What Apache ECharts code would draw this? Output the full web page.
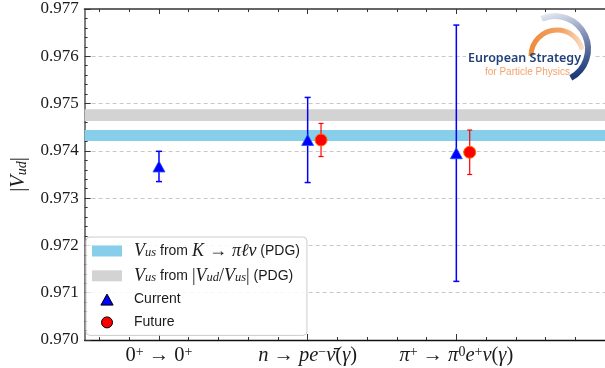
<!DOCTYPE html>
<html>
<head>
<meta charset="utf-8">
<script src="https://cdn.jsdelivr.net/npm/echarts@6/dist/echarts.min.js"></script>
<style>
  html, body { margin: 0; padding: 0; background: #fff; }
  #chart { width: 605px; height: 368px; }
</style>
</head>
<body>
<div id="chart"></div>
<script>
// Decay channels along the x axis (rich-text labels)
const categories = [
  '{r|0}{sup|+}{a|→}{r|0}{sup|+}',
  '{i|n}{a|→}{i|pe}{sup|−}{i|ν̄}{r|(}{i|γ}{r|)}',
  '{i|π}{sup|+}{a|→}{i|π}{sup|0}{i|e}{sup|+}{i|ν}{r|(}{i|γ}{r|)}'
];

// |Vud| determinations: present precision
const currentValue = [0.97367, 0.97423, 0.97395];
const currentError = [0.00032, 0.00090, 0.00271];

// |Vud| determinations: projected precision (none for superallowed)
const futureValue = [null, 0.97423, 0.97397];
const futureError = [null, 0.00035, 0.00047];

// Unitarity bands from |Vus| inputs (lower, upper)
const bandKl3 = [0.97421, 0.97444];
const bandRatio = [0.97463, 0.97488];

// y axis tick range
const yTicks = { min: 0.970, max: 0.977, step: 0.001 };

const FUTURE_SHIFT = 0.09;
const SERIF = '"Liberation Serif", "DejaVu Serif", serif';
const SANS = '"Liberation Sans", "DejaVu Sans", sans-serif';

const majorX = categories.map((_, i) => i);
const minorX = [];
for (let k = -2; k <= 14; k++) {
  if (k % 5 !== 0) minorX.push(+(k * 0.2).toFixed(1));
}

const currentPts = currentValue.map((v, i) => [i, v]);
const currentBars = currentValue.map((v, i) => [i, v - currentError[i], v + currentError[i]]);
const futurePts = [];
const futureBars = [];
futureValue.forEach((v, i) => {
  if (v == null) return;
  futurePts.push([i + FUTURE_SHIFT, v]);
  futureBars.push([i + FUTURE_SHIFT, v - futureError[i], v + futureError[i]]);
});

function bandRender(params, api) {
  const cs = params.coordSys;
  const top = api.coord([0, api.value(1)])[1];
  const bot = api.coord([0, api.value(0)])[1];
  return {
    type: 'rect',
    shape: { x: cs.x, y: top, width: cs.width, height: bot - top },
    style: { fill: api.visual('color') }
  };
}

function errorBarRender(color, width, cap) {
  return function (params, api) {
    const x = api.value(0);
    const p1 = api.coord([x, api.value(2)]);
    const p2 = api.coord([x, api.value(1)]);
    const st = { stroke: color, lineWidth: width };
    return {
      type: 'group',
      children: [
        { type: 'line', shape: { x1: p1[0], y1: p1[1], x2: p2[0], y2: p2[1] }, style: st },
        { type: 'line', shape: { x1: p1[0] - cap, y1: p1[1], x2: p1[0] + cap, y2: p1[1] }, style: st },
        { type: 'line', shape: { x1: p2[0] - cap, y1: p2[1], x2: p2[0] + cap, y2: p2[1] }, style: st }
      ]
    };
  };
}

const INK = '#1a1a1a';
const mathRich = {
  r: { fontFamily: SERIF, fontSize: 20.5, color: INK, lineHeight: 22, verticalAlign: 'middle' },
  a: { fontFamily: SERIF, fontSize: 20.5, color: INK, lineHeight: 22, verticalAlign: 'middle', padding: [0, 5, 0, 5] },
  i: { fontFamily: SERIF, fontStyle: 'italic', fontSize: 20.5, color: INK, lineHeight: 22, verticalAlign: 'middle' },
  sup: { fontFamily: SERIF, fontSize: 14, color: INK, lineHeight: 13, verticalAlign: 'top' },
  sub: { fontFamily: SERIF, fontStyle: 'italic', fontSize: 14, color: INK, lineHeight: 13, verticalAlign: 'bottom' }
};

// legend entries; {g|} adds the gap between key and label
const legendLabels = {
  bandKl3: '{g|}{m|V}{s|us}{t| from }{m|K}{a|→}{m|πℓν}{t| (PDG)}',
  bandRatio: '{g|}{m|V}{s|us}{t| from }{r||}{m|V}{s|ud}{r|/}{m|V}{s|us}{r||}{t| (PDG)}',
  Current: '{g|}{t|Current}',
  Future: '{g|}{t|Future}'
};

function tickAxis(position, values, len, showLine, lineColor, lineWidth) {
  return {
    type: 'value', position: position, min: -0.5, max: 3,
    axisLine: { show: showLine, onZero: false, lineStyle: { color: lineColor, width: lineWidth } },
    axisTick: { show: true, inside: true, length: len, customValues: values, lineStyle: { color: '#333', width: 1 } },
    axisLabel: { show: false },
    splitLine: { show: false }
  };
}

const bottomMajor = tickAxis('bottom', majorX, 6, true, '#111', 1.3);
bottomMajor.axisLabel = {
  show: true, customValues: majorX, margin: 5,
  formatter: (v) => categories[Math.round(v)],
  rich: mathRich
};

const chart = echarts.init(document.getElementById('chart'), null, { renderer: 'canvas' });
chart.setOption({
  animation: false,
  backgroundColor: '#fff',
  grid: { left: 78, right: -8.5, top: 9, bottom: 28, containLabel: false },
  xAxis: [
    bottomMajor,
    tickAxis('bottom', minorX, 3, false, '#111', 1),
    tickAxis('top', majorX, 5, true, '#666', 2),
    tickAxis('top', minorX, 3, false, '#666', 1)
  ],
  yAxis: {
    type: 'value', min: yTicks.min, max: yTicks.max, interval: yTicks.step,
    name: '{r||}{i|V}{sub|ud}{r||}',
    nameLocation: 'middle', nameGap: 46, nameRotate: 90,
    nameTextStyle: { rich: mathRich },
    axisLine: { show: true, onZero: false, lineStyle: { color: '#555', width: 1.5 } },
    axisTick: { show: true, inside: true, length: 6, lineStyle: { color: '#333' } },
    minorTick: { show: true, splitNumber: 5, length: 3, lineStyle: { color: '#333' } },
    splitLine: { show: true, lineStyle: { color: '#c8c8c8', type: [4, 3], width: 1 } },
    axisLabel: {
      fontFamily: SERIF, fontSize: 17, color: INK, margin: 6,
      formatter: (v) => v.toFixed(3)
    }
  },
  legend: {
    orient: 'vertical', left: 86, top: 237,
    padding: [5, 7, 5, 6],
    itemWidth: 30, itemHeight: 11, itemGap: 6.8,
    symbolKeepAspect: true,
    selectedMode: false,
    backgroundColor: 'rgba(255,255,255,0.85)',
    borderColor: '#cccccc', borderWidth: 1, borderRadius: 4,
    data: [
      { name: 'bandKl3', icon: 'rect' },
      { name: 'bandRatio', icon: 'rect' },
      { name: 'Current', icon: 'path://M5,0 L10,9 L0,9 Z', itemStyle: { borderColor: '#000', borderWidth: 1 } },
      { name: 'Future', icon: 'circle', itemStyle: { borderColor: '#000', borderWidth: 1 } }
    ],
    formatter: (name) => legendLabels[name],
    textStyle: {
      fontFamily: SANS, fontSize: 14, color: '#1a1a1a', lineHeight: 16,
      rich: {
        g: { width: 7, fontSize: 14, lineHeight: 16 },
        t: { fontFamily: SANS, fontSize: 14, color: '#1a1a1a', lineHeight: 16, verticalAlign: 'middle' },
        r: { fontFamily: SERIF, fontSize: 18, color: '#1a1a1a', lineHeight: 16, verticalAlign: 'middle' },
        a: { fontFamily: SERIF, fontSize: 18, color: '#1a1a1a', lineHeight: 16, verticalAlign: 'middle', padding: [0, 5, 0, 5] },
        m: { fontFamily: SERIF, fontStyle: 'italic', fontSize: 18, color: '#1a1a1a', lineHeight: 16, verticalAlign: 'middle' },
        s: { fontFamily: SERIF, fontStyle: 'italic', fontSize: 12.5, color: '#1a1a1a', lineHeight: 10, verticalAlign: 'bottom' }
      }
    }
  },
  graphic: [
    { type: 'rect', z: 50, shape: { x: 466, y: 15, width: 127, height: 69 }, style: { fill: '#fff' } },
    {
      type: 'arc', z: 51,
      shape: { cx: 555, cy: 49, r: 33, startAngle: -1.99, endAngle: 1.07, clockwise: true },
      style: {
        fill: null, lineWidth: 6,
        stroke: { type: 'linear', x: 0, y: 0, x2: 0.4, y2: 1, colorStops: [
          { offset: 0, color: '#eef1f7' }, { offset: 0.45, color: '#8796b8' }, { offset: 1, color: '#1c3a78' }] }
      }
    },
    {
      type: 'arc', z: 51,
      shape: { cx: 557, cy: 56, r: 26, startAngle: Math.PI, endAngle: 2 * Math.PI - 0.25, clockwise: true },
      style: {
        fill: null, lineWidth: 5,
        stroke: { type: 'linear', x: 0, y: 0, x2: 1, y2: 0, colorStops: [
          { offset: 0, color: '#ef8a3a' }, { offset: 0.6, color: '#f3a466' }, { offset: 1, color: '#fbe2cc' }] }
      }
    },
    {
      type: 'text', z: 52,
      style: { text: 'European Strategy', x: 468, y: 58, font: '600 12.5px "Noto Sans", sans-serif',
        fill: '#22407a', textVerticalAlign: 'middle' }
    },
    {
      type: 'text', z: 52,
      style: { text: 'for Particle Physics', x: 485, y: 72, font: '10px "Liberation Sans", sans-serif',
        fill: '#f3a26a', textVerticalAlign: 'middle' }
    }
  ],
  series: [
    {
      name: 'bandKl3', type: 'custom', renderItem: bandRender, z: 1,
      itemStyle: { color: '#87ceeb' },
      encode: { x: -1, y: [0, 1] },
      data: [bandKl3]
    },
    {
      name: 'bandRatio', type: 'custom', renderItem: bandRender, z: 1,
      itemStyle: { color: '#d3d3d3' },
      encode: { x: -1, y: [0, 1] },
      data: [bandRatio]
    },
    {
      name: 'currentErr', type: 'custom', z: 3,
      renderItem: errorBarRender('#0000ff', 1.5, 3),
      encode: { x: 0, y: [1, 2] },
      data: currentBars
    },
    {
      name: 'futureErr', type: 'custom', z: 3,
      renderItem: errorBarRender('#ff0000', 1.2, 2.5),
      encode: { x: 0, y: [1, 2] },
      data: futureBars
    },
    {
      name: 'Current', type: 'scatter', z: 4,
      symbol: 'triangle', symbolSize: [12, 11],
      itemStyle: { color: '#0000ff', borderColor: '#2050ff', borderWidth: 0.8, opacity: 1 },
      data: currentPts
    },
    {
      name: 'Future', type: 'scatter', z: 4,
      symbol: 'circle', symbolSize: 12,
      itemStyle: { color: '#ff0000', borderColor: '#ff6a00', borderWidth: 1, opacity: 1 },
      data: futurePts
    }
  ]
});
</script>
</body>
</html>
